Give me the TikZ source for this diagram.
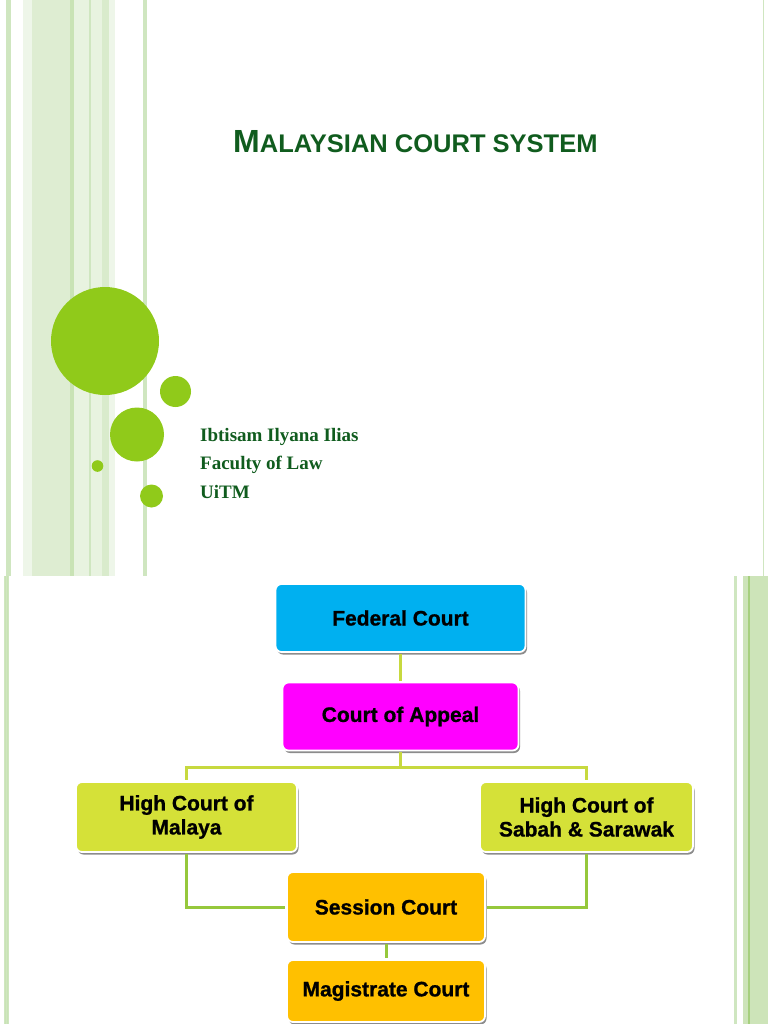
\documentclass[tikz,border=0pt]{standalone}
\usepackage{fontspec}
\setmainfont{Liberation Serif}
\newfontfamily\sansb{Liberation Sans}
\newfontfamily\boxfont{Liberation Sans Bold}[FakeBold=0.9]
\usetikzlibrary{shadows}
\definecolor{titlegreen}{RGB}{16,92,30}
\definecolor{dotgreen}{RGB}{144,202,26}
\definecolor{stA}{RGB}{207,230,192}
\definecolor{stB}{RGB}{238,246,233}
\definecolor{stC}{RGB}{222,237,210}
\definecolor{stD}{RGB}{201,227,181}
\definecolor{stE}{RGB}{232,243,224}
\definecolor{stF}{RGB}{217,235,204}
\definecolor{stG}{RGB}{205,228,185}
\definecolor{stH}{RGB}{166,208,126}
\definecolor{fedblue}{RGB}{0,176,240}
\definecolor{appmag}{RGB}{255,0,255}
\definecolor{hcyellow}{RGB}{213,225,56}
\definecolor{gold}{RGB}{255,192,0}
\definecolor{connA}{RGB}{199,217,63}
\definecolor{connB}{RGB}{150,200,60}
\tikzset{
  court/.style={draw=white, line width=1.8pt, rounded corners=6pt, inner sep=0pt,
    align=center, text=black, font=\boxfont\fontsize{21}{24}\selectfont,
    drop shadow={shadow xshift=1.5pt, shadow yshift=-2.5pt, opacity=0.45, fill=black}},
  linkA/.style={draw=connA, line width=3pt, shorten >=1pt, shorten <=1pt},
  linkB/.style={draw=connB, line width=3pt, shorten >=1pt, shorten <=1pt},
  dot/.style={fill=dotgreen},
  author/.style={anchor=base west, inner sep=0pt, text=titlegreen,
    font=\bfseries\fontsize{19}{23}\selectfont}
}
\begin{document}
\begin{tikzpicture}[x=1pt,y=-1pt]
\useasboundingbox (0,0) rectangle (768,1024);
\fill[white] (0,0) rectangle (768,1024);
% ---------- top slide decoration ----------
\fill[stA] (6,0) rectangle (10.7,575.5);
\fill[stB] (22.7,0) rectangle (32,575.5);
\fill[stC] (32,0) rectangle (70,575.5);
\fill[stD] (70,0) rectangle (74,575.5);
\fill[stE] (74,0) rectangle (89.3,575.5);
\fill[stA] (89.3,0) rectangle (90.7,575.5);
\fill[stE] (90.7,0) rectangle (102,575.5);
\fill[stF] (102,0) rectangle (109.3,575.5);
\fill[stB] (109.3,0) rectangle (115,575.5);
\fill[stA] (143.3,0) rectangle (146.7,575.5);
\fill[stA] (762.8,0) rectangle (764.2,575.5);
% circles
\fill[dot] (105,341) circle (54pt);
\fill[dot] (175.5,391.5) circle (15.5pt);
\fill[dot] (137,434.5) circle (27pt);
\fill[dot] (97.5,466) circle (5.8pt);
\fill[dot] (151.5,496) circle (11.5pt);
% title
\node[anchor=base west, inner sep=0pt, text=titlegreen] (title) at (233,153)
  {\sansb\bfseries\fontsize{32}{36}\selectfont M\fontsize{25.5}{30}\selectfont ALAYSIAN COURT SYSTEM};
\node[author] (name) at (200,441) {Ibtisam Ilyana Ilias};
\node[author] (fac) at (200,469.5) {Faculty of Law};
\node[author] (uni) at (200,498) {UiTM};
% ---------- bottom slide decoration ----------
\fill[stA] (3.5,576) rectangle (9,1024);
\fill[stD] (4.5,576) rectangle (5.5,1024);
\fill[stD] (7.3,576) rectangle (8.3,1024);
\fill[stA] (734,576) rectangle (737,1024);
\fill[stG] (742.7,576) rectangle (768,1024);
\fill[stH] (748.3,576) rectangle (749.7,1024);
% ---------- court nodes ----------
\node[court, fill=fedblue, minimum width=250pt, minimum height=68pt] (fed) at (400.5,618) {Federal Court};
\node[court, fill=appmag, minimum width=236pt, minimum height=68pt] (app) at (400.5,716.5) {Court of Appeal};
\node[court, fill=hcyellow, minimum width=221pt, minimum height=70pt] (hcm) at (186.5,817) {High Court of\\Malaya};
\node[court, fill=hcyellow, minimum width=213pt, minimum height=70pt] (hcs) at (586.5,817) {High Court of\\Sabah \& Sarawak};
\node[court, fill=gold, minimum width=198pt, minimum height=70pt] (ses) at (386,907) {Session Court};
\node[court, fill=gold, minimum width=198pt, minimum height=62pt] (mag) at (386,991) {Magistrate Court};
% ---------- connectors ----------
\draw[linkA] (fed.south) -- (app.north);
\draw[linkA] (app.south) -- ++(0,16) -| (hcm.north);
\draw[linkA] (app.south) -- ++(0,16) -| (hcs.north);
\draw[linkB] (hcm.south) |- (ses.west);
\draw[linkB] (hcs.south) |- (ses.east);
\draw[linkB] (ses.south) -- (mag.north);
\end{tikzpicture}
\end{document}
